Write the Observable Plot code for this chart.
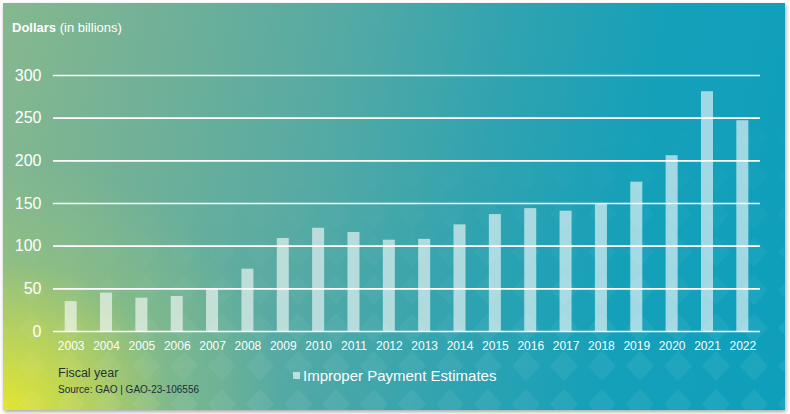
<!DOCTYPE html>
<html>
<head>
<meta charset="utf-8">
<script src="https://cdn.jsdelivr.net/npm/d3@7"></script>
<script src="https://cdn.jsdelivr.net/npm/@observablehq/plot@0.6"></script>
<style>
  html, body { margin: 0; padding: 0; }
  body { width: 790px; height: 414px; background: #ffffff; position: relative; overflow: hidden;
         font-family: "Liberation Sans", Arial, Helvetica, sans-serif; }
  #card { position: absolute; left: 3px; top: 3px; width: 782px; height: 407px; overflow: hidden;
    background:
      radial-gradient(ellipse 280px 250px at 0% 100%, rgba(226,230,48,1) 0%, rgba(205,220,75,0.75) 30%, rgba(170,205,110,0.35) 60%, rgba(150,200,120,0) 100%),
      linear-gradient(100deg, #86b88e 0%, #72b197 18%, #55aaa4 40%, #30a3b0 60%, #15a0b9 78%, #0e9fbb 100%);
    box-shadow: 1px 2px 4px rgba(0,0,0,0.35); }
  #card svg { position: absolute; left: 0; top: 0; }
  .t { position: absolute; line-height: 1; white-space: nowrap; }
  #ytitle { left: 12px; top: 21px; font-size: 13px; color: #fff; }
  #ytitle b { font-weight: bold; }
  #xtitle { left: 58px; top: 367px; font-size: 12.5px; color: #223238; }
  #source { left: 58px; top: 384.5px; font-size: 10px; color: #1e2e3a; }
  #legend { left: 303px; top: 368px; font-size: 15px; color: #fff; }
  #swatch { position: absolute; left: 293px; top: 372px; width: 7px; height: 7px; background: rgba(255,255,255,0.6); }
  #chart { position: absolute; left: 0; top: 0; }
</style>
</head>
<body>
<div id="card">
  <svg width="782" height="407">
    <defs>
      <pattern id="dia" width="38" height="38" patternUnits="userSpaceOnUse" x="10" y="2">
        <path d="M19 4 L33 19 L19 34 L5 19 Z" fill="#ffffff"/>
      </pattern>
      <linearGradient id="fade" x1="0" y1="0" x2="0.25" y2="1">
        <stop offset="0.45" stop-color="#fff" stop-opacity="0"/>
        <stop offset="1" stop-color="#fff" stop-opacity="1"/>
      </linearGradient>
      <mask id="m"><rect width="782" height="407" fill="url(#fade)"/></mask>
    </defs>
    <rect width="782" height="407" fill="url(#dia)" opacity="0.06" mask="url(#m)"/>
  </svg>
</div>
<div class="t" id="ytitle"><b>Dollars</b> (in billions)</div>
<div class="t" id="xtitle">Fiscal year</div>
<div class="t" id="source">Source: GAO | GAO-23-106556</div>
<div id="swatch"></div>
<div class="t" id="legend">Improper Payment Estimates</div>
<div id="chart"></div>
<script>
const years = ["2003","2004","2005","2006","2007","2008","2009","2010","2011","2012",
               "2013","2014","2015","2016","2017","2018","2019","2020","2021","2022"];
const estimates = [35, 45, 39, 41, 49, 73, 109, 121, 116, 107,
                   108, 125, 137, 144, 141, 150, 175, 206, 281, 247];
const yTicks = [0, 50, 100, 150, 200, 250, 300];

const data = years.map((year, i) => ({year, value: estimates[i]}));

const chart = Plot.plot({
  width: 790,
  height: 360,
  marginLeft: 53,
  marginRight: 30,
  marginTop: 75,
  marginBottom: 29,
  style: {background: "transparent", fontFamily: "'Liberation Sans', Arial, sans-serif", color: "#fff", overflow: "visible"},
  x: {type: "band", domain: years, paddingInner: 0.66, paddingOuter: 0.33, round: false, label: null},
  y: {domain: [0, 300], label: null},
  marks: [
    Plot.ruleY(yTicks, {stroke: "#ffffff", strokeWidth: 1.6}),
    Plot.barY(data, {x: "year", y: "value", fill: "#ffffff", fillOpacity: 0.6}),
    Plot.axisX({tickSize: 0, tickPadding: 10, fontSize: 12, fill: "#ffffff", label: null}),
    Plot.axisY(yTicks, {tickSize: 0, tickPadding: 12, fontSize: 16, fill: "#ffffff", label: null})
  ]
});
document.getElementById("chart").appendChild(chart);
</script>
</body>
</html>
